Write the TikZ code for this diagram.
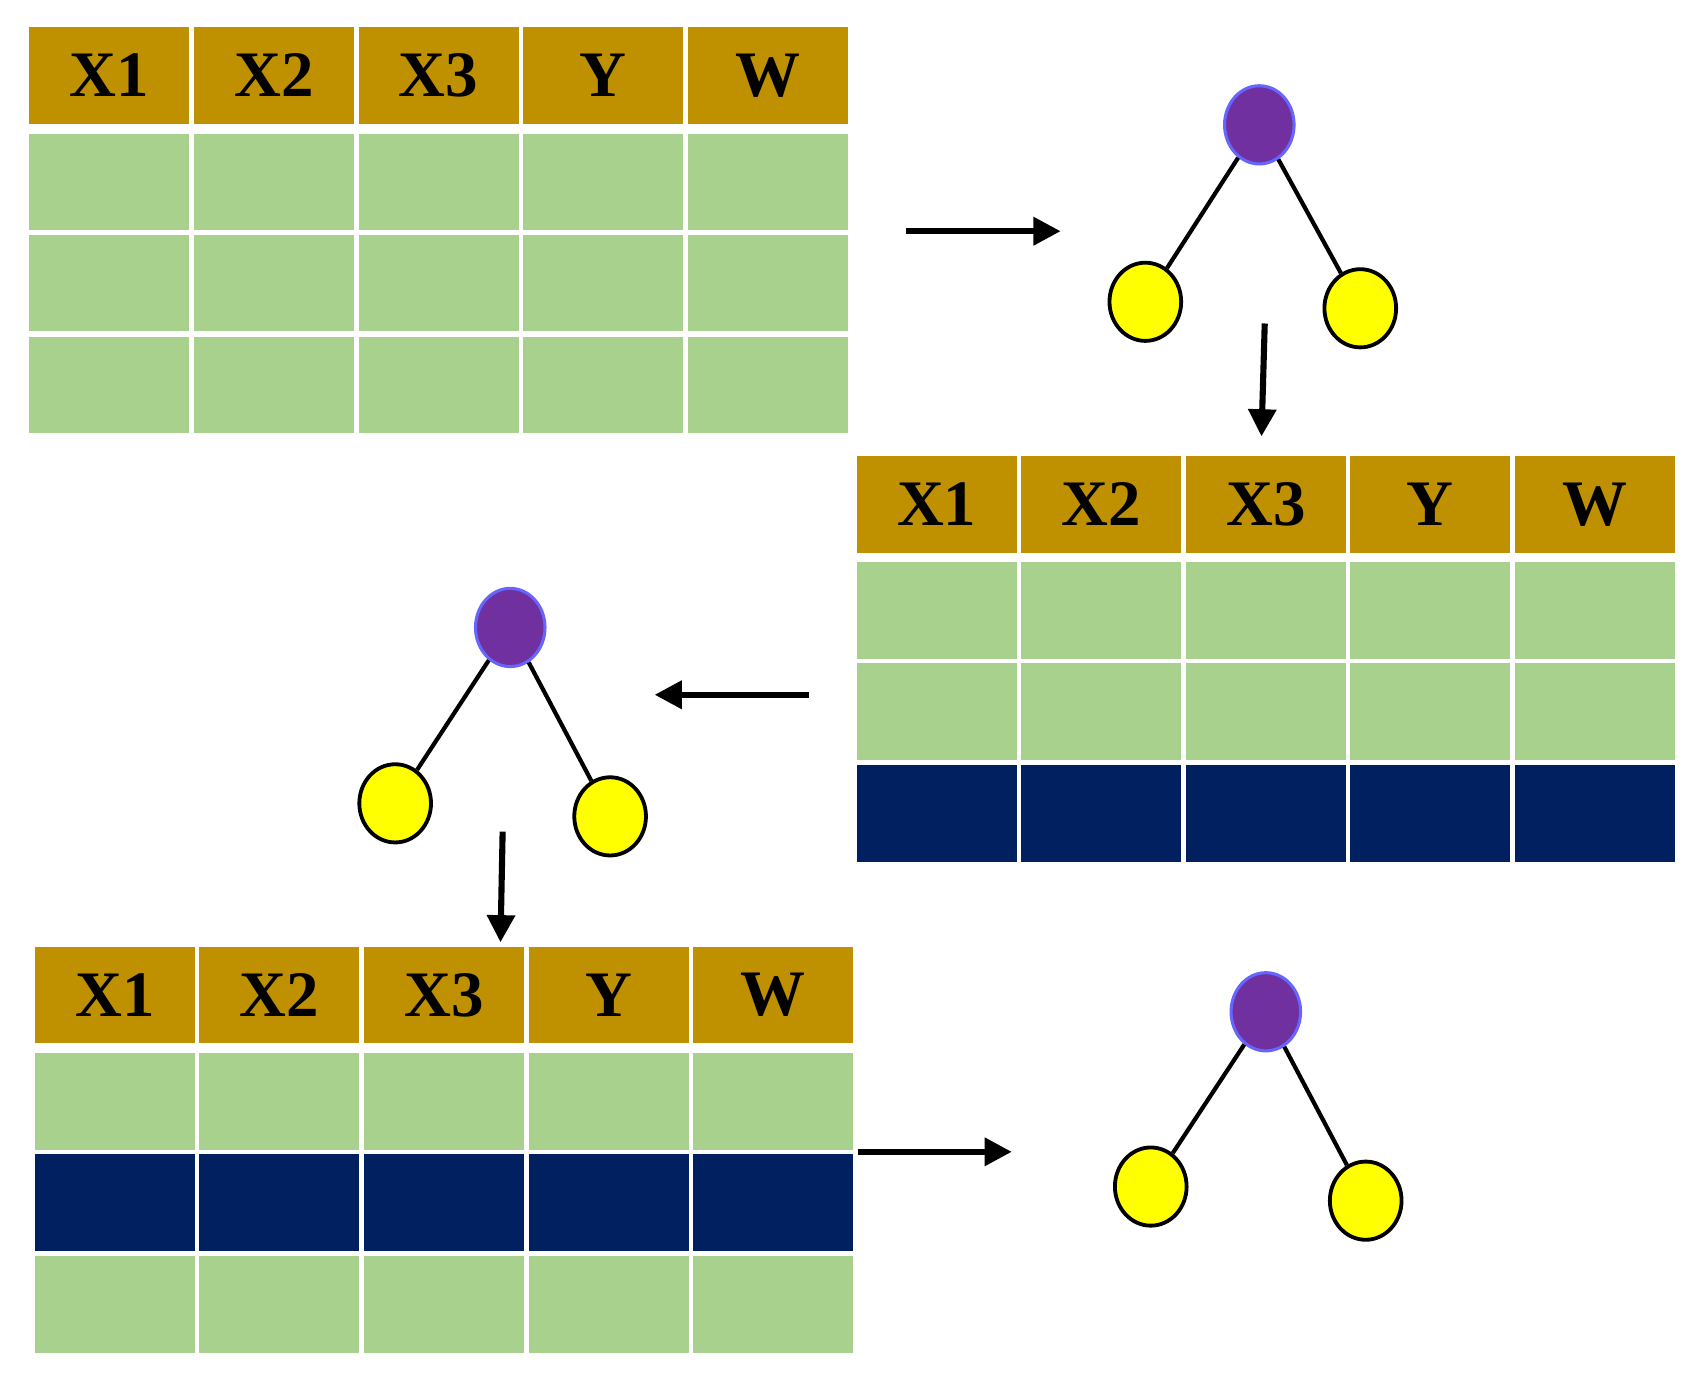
\documentclass[tikz,border=0pt]{standalone}
\usepackage{fontspec}
\setmainfont{Liberation Serif}
\usetikzlibrary{arrows.meta}
\definecolor{gold}{HTML}{BF9000}
\definecolor{grn}{HTML}{A9D18E}
\definecolor{navy}{HTML}{002060}
\definecolor{purp}{HTML}{7030A0}
\definecolor{ylw}{HTML}{FFFF00}
\tikzset{
 cell/.style={draw=white,line width=1.2pt,minimum width=1.515cm,minimum height=0.93cm,inner sep=0,outer sep=0,anchor=north west,font=\fontsize{17}{17}\selectfont\bfseries},
 root/.style={ellipse,draw=blue!60,line width=0.8pt,fill=purp,minimum width=0.64cm,minimum height=0.72cm,inner sep=0},
 leaf/.style={ellipse,draw=black,line width=1pt,fill=ylw,minimum width=0.66cm,minimum height=0.72cm,inner sep=0},
 edge/.style={line width=1.1pt},
 arr/.style={line width=1.6pt,-{Triangle[length=0.25cm,width=0.25cm]}}
}
\usetikzlibrary{shapes.geometric}
\newcommand{\mytable}[5]{% name, x, y, row2color, row3color ... (#4 row1,#5 row2, #6?)
}
\begin{document}
\begin{tikzpicture}[x=0.01cm,y=-0.01cm]
\useasboundingbox (0,0) rectangle (1565,1280);
% table drawing via foreach
\foreach \tn/\tx/\ty/\ca/\cb/\cc in {a/25/23/grn/grn/grn, b/787/418/grn/grn/navy, c/30/870/grn/navy/grn}{
  \foreach \l [count=\i from 0] in {X1,X2,X3,Y,W}{
    \node[cell,fill=gold] (\tn h\i) at (\tx+\i*151.6,\ty) {\l};
    \node[cell,fill=\ca] (\tn r1\i) at (\tx+\i*151.6,\ty+98) {};
    \node[cell,fill=\cb] (\tn r2\i) at (\tx+\i*151.6,\ty+191) {};
    \node[cell,fill=\cc] (\tn r3\i) at (\tx+\i*151.6,\ty+285) {};
  }
}
% trees
\node[root] (t1r) at (1160,115) {};
\node[leaf] (t1a) at (1055,278) {};
\node[leaf] (t1b) at (1253,284) {};
\node[root] (t2r) at (470,578) {};
\node[leaf] (t2a) at (364,740) {};
\node[leaf] (t2b) at (562,752) {};
\node[root] (t3r) at (1166,932) {};
\node[leaf] (t3a) at (1060,1093) {};
\node[leaf] (t3b) at (1258,1106) {};
\foreach \t in {t1,t2,t3}{
 \draw[edge] (\t r) -- (\t a);
 \draw[edge] (\t r) -- (\t b);
}
% arrows
\coordinate (a1s) at (835,213); \coordinate (a1e) at (977,213);
\coordinate (a2s) at (1165,298); \coordinate (a2e) at (1162,402);
\coordinate (a3s) at (745,640); \coordinate (a3e) at (603,640);
\coordinate (a4s) at (463,766); \coordinate (a4e) at (461,868);
\coordinate (a5s) at (790,1061); \coordinate (a5e) at (932,1061);
\foreach \k in {1,...,5}{\draw[arr] (a\k s) -- (a\k e);}
\end{tikzpicture}
\end{document}
